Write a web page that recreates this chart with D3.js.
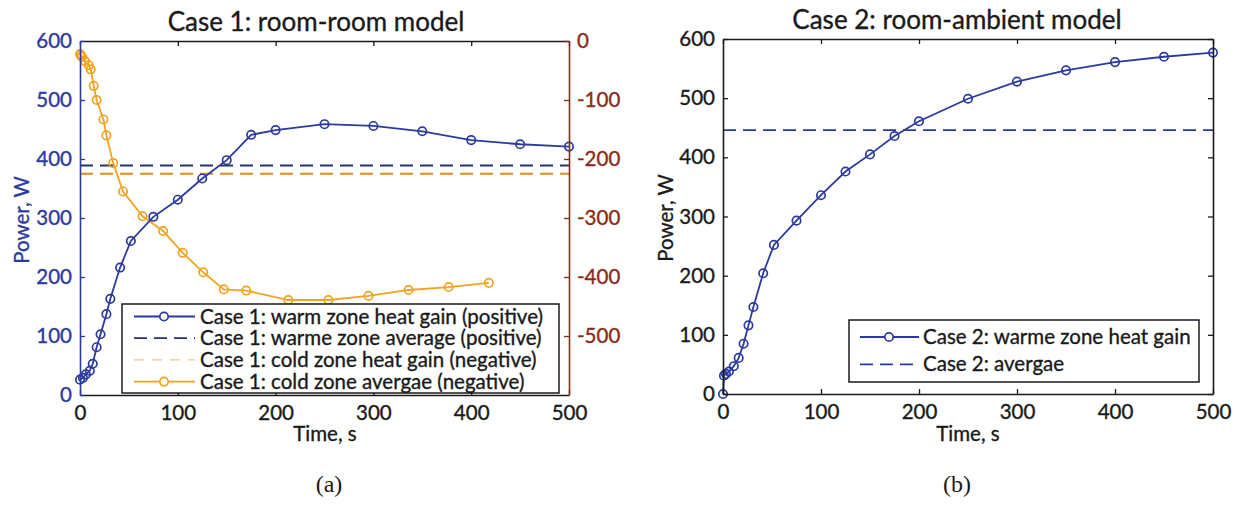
<!DOCTYPE html>
<html>
<head>
<meta charset="utf-8">
<script src="https://cdn.jsdelivr.net/npm/d3@7"></script>
<style>
  html, body { margin: 0; padding: 0; background: #fff; }
  svg { display: block; }
  .sans { font-family: Lato, "Open Sans", sans-serif; }
</style>
</head>
<body>
<svg id="fig" class="sans" width="1235" height="524"></svg>
<script>
// ---- Case 1: room-room model ----
const case1WarmTime  = [0, 3, 6, 10, 13, 17, 21, 27, 31, 41, 52, 75, 100, 125, 150, 175, 200, 250, 300, 350, 400, 450, 500];
const case1WarmPower = [26, 29, 35, 41, 53, 81, 103, 137, 163, 216, 261, 302, 331, 367, 398, 441, 449, 459, 456, 447, 432, 425, 421];
const case1WarmAverage = 389;

const case1ColdTime  = [0, 1, 2, 5, 9, 11, 14, 17, 24, 27, 34, 44, 64, 85, 105, 126, 147, 170, 213, 254, 295, 336, 377, 418];
const case1ColdPower = [-22, -24, -27, -34, -41, -48, -76, -100, -133, -160, -207, -255, -297, -322, -359, -392, -421, -423, -439, -439, -432, -422, -417, -410];
const case1ColdAverage = -225;

// ---- Case 2: room-ambient model ----
const case2Time  = [0, 1, 3, 6, 11, 16, 21, 26, 31, 41, 52, 75, 100, 125, 150, 175, 200, 250, 300, 350, 400, 450, 500];
const case2Power = [0, 31, 34, 38, 47, 61, 85, 116, 147, 204, 252, 293, 336, 376, 405, 436, 461, 499, 528, 547, 561, 570, 577];
const case2Average = 446;

// ---- tick labels ----
const timeTicks = [0, 100, 200, 300, 400, 500];
const powerTicks = [0, 100, 200, 300, 400, 500, 600];
const coldTicks = [0, -100, -200, -300, -400, -500];

const legend1Labels = [
  "Case 1: warm zone heat gain (positive)",
  "Case 1: warme zone average (positive)",
  "Case 1: cold zone heat gain (negative)",
  "Case 1: cold zone avergae (negative)"
];
const legend2Labels = [
  "Case 2: warme zone heat gain",
  "Case 2: avergae"
];

// ---- styling ----
const BLUE = "#2b3a9e";
const BLUE_DASH = "#25336f";
const ORANGE = "#f2a31f";
const ORANGE_DASH = "#e08a1c";
const ORANGE_PALE = "#e9c98e";
const DARKRED = "#8a2b1a";
const INK = "#1a1a1a";
const FS = 20.5;
const SANS = "Lato, 'Open Sans', sans-serif";
const SERIF = "'Liberation Serif', 'DejaVu Serif', serif";

const svg = d3.select("#fig");

// slightly heavier glyphs for the sans-serif text
function ink(sel, color) {
  return sel.style("font-family", SANS).attr("fill", color)
    .attr("stroke", color).attr("stroke-width", 0.35);
}

function styleAxis(g, color) {
  g.attr("font-family", SANS).attr("font-size", FS);
  g.select(".domain").attr("stroke", color).attr("stroke-width", 1.6);
  g.selectAll(".tick line").attr("stroke", color).attr("stroke-width", 1.3);
  ink(g.selectAll(".tick text"), color);
}

function drawMarkers(g, xs, ys, xScale, yScale, color) {
  g.selectAll(null).data(xs).enter().append("circle")
    .attr("cx", d => xScale(d))
    .attr("cy", (d, i) => yScale(ys[i]))
    .attr("r", 4.2)
    .attr("fill", "none")
    .attr("stroke", color)
    .attr("stroke-width", 1.7);
}

function drawSeries(g, xs, ys, xScale, yScale, color) {
  const line = d3.line().x(d => xScale(d[0])).y(d => yScale(d[1]));
  g.append("path")
    .datum(xs.map((t, i) => [t, ys[i]]))
    .attr("d", line)
    .attr("fill", "none")
    .attr("stroke", color)
    .attr("stroke-width", 1.8);
  drawMarkers(g, xs, ys, xScale, yScale, color);
}

function drawHLine(g, value, xScale, yScale, color, dash, width) {
  g.append("line")
    .attr("x1", xScale(0)).attr("x2", xScale(500))
    .attr("y1", yScale(value)).attr("y2", yScale(value))
    .attr("stroke", color).attr("stroke-width", width)
    .attr("stroke-dasharray", dash);
}

// ================= Panel (a) =================
const x1 = d3.scaleLinear().domain([0, 500]).range([80, 569]);
const y1 = d3.scaleLinear().domain([0, 600]).range([395, 41]);
const y1r = d3.scaleLinear().domain([-600, 0]).range([395, 41]);

const pA = svg.append("g");

// data
drawHLine(pA, case1WarmAverage, x1, y1, BLUE_DASH, "13 7", 1.8);
drawHLine(pA, case1ColdAverage, x1, y1r, ORANGE_DASH, "13 7", 1.8);
drawSeries(pA, case1ColdTime, case1ColdPower, x1, y1r, ORANGE);
drawSeries(pA, case1WarmTime, case1WarmPower, x1, y1, BLUE);

// axes
pA.append("g").attr("transform", "translate(0,395)")
  .call(d3.axisBottom(x1).tickValues(timeTicks).tickSize(-5).tickSizeOuter(0).tickPadding(10))
  .call(g => styleAxis(g, INK));
pA.append("g").attr("transform", "translate(0,41)")
  .call(d3.axisTop(x1).tickValues(timeTicks).tickSize(-5).tickSizeOuter(0).tickFormat(""))
  .call(g => styleAxis(g, INK));
pA.append("g").attr("transform", "translate(80,0)")
  .call(d3.axisLeft(y1).tickValues(powerTicks).tickSize(-5).tickSizeOuter(0).tickPadding(8))
  .call(g => styleAxis(g, BLUE));
pA.append("g").attr("transform", "translate(569,0)")
  .call(d3.axisRight(y1r).tickValues(coldTicks).tickSize(-5).tickSizeOuter(0).tickPadding(8)
        .tickFormat(d => String(d)))
  .call(g => styleAxis(g, DARKRED));

// labels
ink(pA.append("text").attr("x", 316).attr("y", 31).attr("text-anchor", "middle")
  .attr("font-size", 26), INK).text("Case 1: room-room model");
ink(pA.append("text").attr("transform", "translate(21,220) rotate(-90)")
  .attr("text-anchor", "middle").attr("dominant-baseline", "central")
  .attr("font-size", FS), BLUE).text("Power, W");
ink(pA.append("text").attr("x", 325).attr("y", 441).attr("text-anchor", "middle")
  .attr("font-size", FS), INK).text("Time, s");

// legend
const lgA = pA.append("g");
lgA.append("rect").attr("x", 122).attr("y", 304).attr("width", 437).attr("height", 89)
  .attr("fill", "#fff").attr("stroke", INK).attr("stroke-width", 1.5);
const legendA = [
  { color: BLUE, dash: null, marker: true, width: 1.8 },
  { color: BLUE_DASH, dash: "13 7", marker: false, width: 1.8 },
  { color: ORANGE_PALE, dash: "10 8", marker: false, width: 1.1 },
  { color: ORANGE, dash: null, marker: true, width: 1.8 }
];
legendA.forEach((s, i) => {
  const cy = 316.5 + i * 21.7;
  lgA.append("line").attr("x1", 134).attr("x2", 195).attr("y1", cy).attr("y2", cy)
    .attr("stroke", s.color).attr("stroke-width", s.width)
    .attr("stroke-dasharray", s.dash);
  if (s.marker) {
    lgA.append("circle").attr("cx", 164).attr("cy", cy).attr("r", 4.2)
      .attr("fill", "#fff").attr("stroke", s.color).attr("stroke-width", 1.7);
  }
  ink(lgA.append("text").attr("x", 200).attr("y", cy + 7)
    .attr("font-size", FS), INK).text(legend1Labels[i]);
});

pA.append("text").attr("x", 329).attr("y", 492).attr("text-anchor", "middle")
  .style("font-family", SERIF)
  .attr("font-size", 24).attr("fill", INK).text("(a)");

// ================= Panel (b) =================
const x2 = d3.scaleLinear().domain([0, 500]).range([723, 1213]);
const y2 = d3.scaleLinear().domain([0, 600]).range([394, 39]);

const pB = svg.append("g");

drawHLine(pB, case2Average, x2, y2, BLUE, "13 7", 1.8);
drawSeries(pB, case2Time, case2Power, x2, y2, BLUE);

pB.append("g").attr("transform", "translate(0,394)")
  .call(d3.axisBottom(x2).tickValues(timeTicks).tickSize(-5).tickSizeOuter(0).tickPadding(10))
  .call(g => styleAxis(g, INK));
pB.append("g").attr("transform", "translate(0,39)")
  .call(d3.axisTop(x2).tickValues(timeTicks).tickSize(-5).tickSizeOuter(0).tickFormat(""))
  .call(g => styleAxis(g, INK));
pB.append("g").attr("transform", "translate(723,0)")
  .call(d3.axisLeft(y2).tickValues(powerTicks).tickSize(-5).tickSizeOuter(0).tickPadding(8))
  .call(g => styleAxis(g, INK));
pB.append("g").attr("transform", "translate(1213,0)")
  .call(d3.axisRight(y2).tickValues(powerTicks).tickSize(-5).tickSizeOuter(0).tickFormat(""))
  .call(g => styleAxis(g, INK));

ink(pB.append("text").attr("x", 957).attr("y", 29).attr("text-anchor", "middle")
  .attr("font-size", 26), INK).text("Case 2: room-ambient model");
ink(pB.append("text").attr("transform", "translate(665,218) rotate(-90)")
  .attr("text-anchor", "middle").attr("dominant-baseline", "central")
  .attr("font-size", FS), INK).text("Power, W");
ink(pB.append("text").attr("x", 968).attr("y", 441).attr("text-anchor", "middle")
  .attr("font-size", FS), INK).text("Time, s");

const lgB = pB.append("g");
lgB.append("rect").attr("x", 849).attr("y", 320).attr("width", 350).attr("height", 62)
  .attr("fill", "#fff").attr("stroke", INK).attr("stroke-width", 1.5);
const legendB = [
  { color: BLUE, dash: null, marker: true },
  { color: BLUE, dash: "13 7", marker: false }
];
legendB.forEach((s, i) => {
  const cy = 337 + i * 27.3;
  lgB.append("line").attr("x1", 860).attr("x2", 919).attr("y1", cy).attr("y2", cy)
    .attr("stroke", s.color).attr("stroke-width", 1.8)
    .attr("stroke-dasharray", s.dash);
  if (s.marker) {
    lgB.append("circle").attr("cx", 889).attr("cy", cy).attr("r", 4.2)
      .attr("fill", "#fff").attr("stroke", s.color).attr("stroke-width", 1.7);
  }
  ink(lgB.append("text").attr("x", 923).attr("y", cy + 7)
    .attr("font-size", FS), INK).text(legend2Labels[i]);
});

pB.append("text").attr("x", 957).attr("y", 492).attr("text-anchor", "middle")
  .style("font-family", SERIF)
  .attr("font-size", 24).attr("fill", INK).text("(b)");
</script>
</body>
</html>
